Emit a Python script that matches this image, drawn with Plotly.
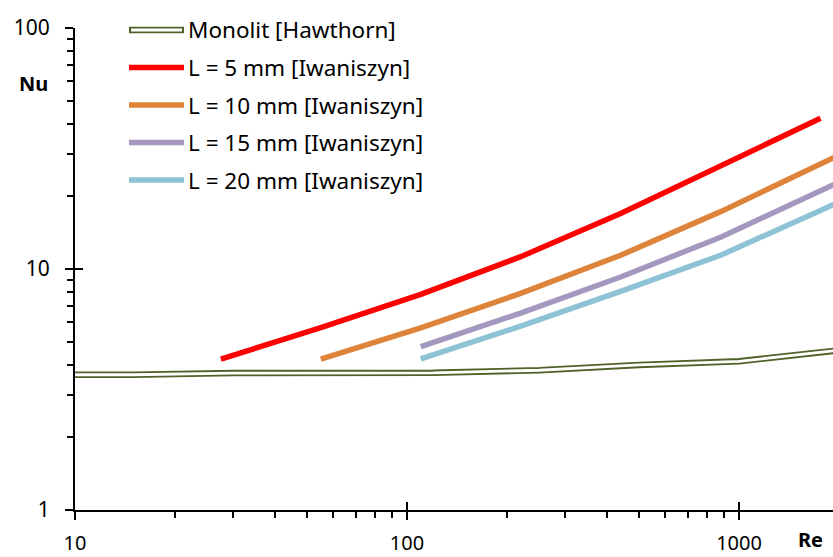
import plotly.graph_objects as go

# ---- data ----
re_mono = [10, 15, 30, 120, 250, 500, 1000, 2000]
nu_mono = [3.64, 3.64, 3.70, 3.71, 3.80, 4.00, 4.14, 4.60]

re_l5 = [27.5, 55, 110, 220, 440, 880, 1760]
nu_l5 = [4.23, 5.71, 7.85, 11.25, 17.0, 26.6, 42.2]

re_l10 = [55, 110, 220, 440, 880, 1760, 3520]
nu_l10 = [4.23, 5.70, 7.92, 11.4, 17.3, 27.2, 43.0]

re_l15 = [110, 220, 440, 880, 1760, 3520]
nu_l15 = [4.76, 6.56, 9.26, 13.55, 21.1, 33.0]

re_l20 = [110, 220, 440, 880, 1760, 3520]
nu_l20 = [4.24, 5.79, 8.07, 11.4, 17.5, 27.0]

names = ["Monolit [Hawthorn]", "L = 5 mm [Iwaniszyn]", "L = 10 mm [Iwaniszyn]",
         "L = 15 mm [Iwaniszyn]", "L = 20 mm [Iwaniszyn]"]
colors = ["#4F6228", "#FF0000", "#DD843A", "#A598BF", "#8DC3D4"]

x_tick_vals = [10, 100, 1000]
x_tick_text = ["10", "100", "1000"]
y_tick_vals = [1, 10, 100]
y_tick_text = ["1", "10", "100"]

W, H = 833, 557
PL, PT, PB, PR = 75, 28, 510, 833          # plot area in window pixels
ML, MT = PL, PT
MB = H - PB
MR = W - PR
x_range = [1, 1 + (PR - PL) / 332.0]
y_range = [0, 2]

font = "Noto Sans, Open Sans, sans-serif"

fig = go.Figure()

# Monolit as double line
fig.add_trace(go.Scatter(x=re_mono, y=nu_mono, mode="lines",
                         line=dict(color=colors[0], width=6.5),
                         showlegend=False, hoverinfo="skip"))
fig.add_trace(go.Scatter(x=re_mono, y=nu_mono, mode="lines",
                         line=dict(color="white", width=2.8),
                         showlegend=False, hoverinfo="skip"))

for xs, ys, c, n in [(re_l5, nu_l5, colors[1], names[1]),
                     (re_l10, nu_l10, colors[2], names[2]),
                     (re_l15, nu_l15, colors[3], names[3]),
                     (re_l20, nu_l20, colors[4], names[4])]:
    fig.add_trace(go.Scatter(x=xs, y=ys, mode="lines", name=n,
                             line=dict(color=c, width=5.5),
                             showlegend=False))

# invisible trace for inside-tick overlay axes
fig.add_trace(go.Scatter(x=[10], y=[1], xaxis="x2", yaxis="y2", mode="markers",
                         marker=dict(opacity=0), showlegend=False, hoverinfo="skip"))

minor_x = [v * d for d in (10, 100, 1000) for v in range(2, 10)]
minor_y = [v * d for d in (1, 10) for v in range(2, 10)]

fig.update_layout(
    width=W, height=H,
    margin=dict(l=ML, r=MR, t=MT, b=MB, autoexpand=False),
    paper_bgcolor="white", plot_bgcolor="white",
    font=dict(family=font, size=21, color="black"),
    xaxis=dict(type="log", range=x_range, showgrid=False, zeroline=False,
               automargin=False,
               showline=True, linecolor="black", linewidth=2,
               ticks="outside", ticklen=8, tickwidth=1.5, tickcolor="black",
               tickvals=x_tick_vals, ticktext=x_tick_text,
               tickfont=dict(size=20),
               ticklabelstandoff=6,
               minor=dict(tickvals=minor_x, ticks="outside", ticklen=6,
                          tickwidth=1.5, tickcolor="black", showgrid=False)),
    yaxis=dict(type="log", range=y_range, showgrid=False, zeroline=False,
               automargin=False,
               showline=True, linecolor="black", linewidth=2,
               ticks="outside", ticklen=8, tickwidth=1.5, tickcolor="black",
               tickvals=y_tick_vals, ticktext=y_tick_text,
               tickfont=dict(size=21),
               ticklabelstandoff=11,
               minor=dict(tickvals=minor_y, ticks="outside", ticklen=6,
                          tickwidth=1.5, tickcolor="black", showgrid=False)),
    xaxis2=dict(type="log", range=x_range, overlaying="x", anchor="y2", side="bottom",
                showgrid=False, zeroline=False, showline=False, automargin=False,
                ticks="inside", ticklen=8, tickwidth=1.5, tickcolor="black",
                tickvals=x_tick_vals, showticklabels=False),
    yaxis2=dict(type="log", range=y_range, overlaying="y", anchor="x2", side="left",
                showgrid=False, zeroline=False, showline=False, automargin=False,
                ticks="inside", ticklen=8, tickwidth=1.5, tickcolor="black",
                tickvals=y_tick_vals, showticklabels=False),
    showlegend=False,
)


def px_x(px):
    return (px - PL) / (PR - PL)


def px_y(py):
    return (PB - py) / (PB - PT)


shapes = []
annotations = []
leg_y = [30, 67.5, 105, 142.5, 180]
lx0, lx1, tx = 129, 184, 186
for i, (n, c) in enumerate(zip(names, colors)):
    yy = px_y(leg_y[i])
    if i == 0:
        shapes.append(dict(type="line", xref="paper", yref="paper",
                           x0=px_x(lx0), x1=px_x(lx1), y0=yy, y1=yy,
                           line=dict(color=c, width=6.5)))
        shapes.append(dict(type="line", xref="paper", yref="paper",
                           x0=px_x(lx0 + 2), x1=px_x(lx1 - 2), y0=yy, y1=yy,
                           line=dict(color="white", width=2.8)))
    else:
        shapes.append(dict(type="line", xref="paper", yref="paper",
                           x0=px_x(lx0), x1=px_x(lx1), y0=yy, y1=yy,
                           line=dict(color=c, width=5.5)))
    annotations.append(dict(text=n, xref="paper", yref="paper",
                            x=px_x(tx), y=yy, xanchor="left", yanchor="middle",
                            showarrow=False, font=dict(family=font, size=22.5, color="black")))

annotations.append(dict(text="<b>Nu</b>", xref="paper", yref="paper",
                        x=px_x(33), y=px_y(83), xanchor="center", yanchor="middle",
                        showarrow=False, font=dict(family=font, size=20, color="black")))
annotations.append(dict(text="<b>Re</b>", xref="paper", yref="paper",
                        x=px_x(810), y=px_y(539), xanchor="center", yanchor="middle",
                        showarrow=False, font=dict(family=font, size=20, color="black")))

fig.update_layout(shapes=shapes, annotations=annotations)

fig.write_html(
    "out.html",
    config={"displayModeBar": False},
    post_script="document.body.style.margin='0';document.body.style.overflow='hidden';"
                "document.documentElement.style.overflow='hidden';",
)
